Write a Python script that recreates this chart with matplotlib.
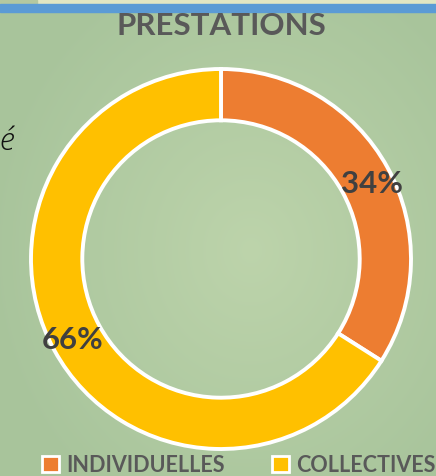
import numpy as np
import matplotlib
matplotlib.use("Agg")
import matplotlib.pyplot as plt
from matplotlib.patches import Rectangle

# donnees
categories = ["INDIVIDUELLES", "COLLECTIVES"]
valeurs = [34, 66]
couleurs = ["#ED7D31", "#FFC000"]
titre = "PRESTATIONS"

W, H = 436, 476
fig = plt.figure(figsize=(W / 100, H / 100), dpi=100)

# fond vert degrade
bg = fig.add_axes([0, 0, 1, 1])
bg.set_axis_off()
yy, xx = np.mgrid[0:H, 0:W]
c1 = np.array([0.66, 0.77, 0.61])
c2 = np.array([0.74, 0.83, 0.67])
t = np.clip(1 - np.hypot((xx - 250) / 260, (yy - 250) / 300), 0, 1)[..., None]
img = c1 * (1 - t) + c2 * t
bg.imshow(img, extent=(0, W, H, 0), aspect="auto")
bg.set_xlim(0, W)
bg.set_ylim(H, 0)
bg.add_patch(Rectangle((0, 0), W, 4, color="#e2e6c2"))
bg.add_patch(Rectangle((0, 0), 37, 4, color="#b4c8a0"))
bg.add_patch(Rectangle((0, 4), W, 7.5, color="#5b9bd5"))
bg.text(7, 141, "é", fontsize=23, style="italic", color="#111111",
        ha="center", va="center", family="Open Sans", fontweight="light")

ax = fig.add_axes([0, 0, 1, 1])
ax.set_axis_off()
R = 190
wedges, _, autotexts = ax.pie(
    valeurs, colors=couleurs, startangle=90, counterclock=False,
    center=(221, H - 259), radius=R, autopct="%d%%", pctdistance=0.89,
    wedgeprops=dict(width=R * 0.27, edgecolor="white", linewidth=2.8),
    textprops=dict(fontsize=22.5, fontweight="bold", color="#404040", family="Lato"))
# petit decalage du 34% vers le bas comme dans l'original
x0, y0 = autotexts[0].get_position()
autotexts[0].set_position((x0 + 3, y0 - 6))
ax.set_xlim(0, W)
ax.set_ylim(0, H)
ax.set_aspect("auto")

fig.text(221 / W, 1 - 26 / H, titre, ha="center", va="center",
         fontsize=22.5, fontweight="bold", color="#595959", family="Lato")

leg = fig.legend(wedges, categories, loc="center", ncol=2,
                 bbox_to_anchor=(239 / W, 1 - 465 / H), frameon=False,
                 prop=dict(size=15.5, weight="bold", family="Lato"),
                 handlelength=0.75, handleheight=0.75, handletextpad=0.35,
                 columnspacing=2.22, labelcolor="#595959")
for h in leg.legend_handles:
    h.set_edgecolor("white")
    h.set_linewidth(2)

fig.savefig("out.png", dpi=100)
